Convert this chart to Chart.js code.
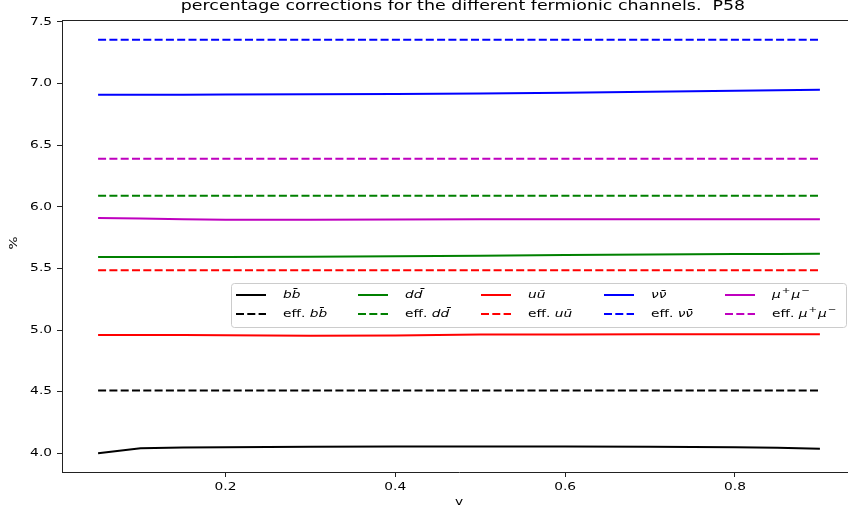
<!DOCTYPE html>
<html>
<head>
<meta charset="utf-8">
<script src="https://cdn.jsdelivr.net/npm/chart.js@4"></script>
<style>
  html, body { margin: 0; padding: 0; overflow: hidden; background: #fff; }
  #wrap { width: 870px; height: 510px; }
</style>
</head>
<body>
<div id="wrap"><canvas id="myChart"></canvas></div>
<script>
// values
const v = [0.05, 0.1, 0.15, 0.2, 0.3, 0.4, 0.5, 0.6, 0.7, 0.8, 0.85, 0.9];
const bb = [4.0, 4.04, 4.046, 4.049, 4.052, 4.054, 4.055, 4.055, 4.053, 4.049, 4.045, 4.037];
const dd = [5.592, 5.592, 5.592, 5.593, 5.595, 5.598, 5.602, 5.608, 5.614, 5.618, 5.617, 5.619];
const uu = [4.96, 4.96, 4.959, 4.957, 4.954, 4.956, 4.963, 4.964, 4.965, 4.965, 4.965, 4.966];
const nn = [6.91, 6.91, 6.91, 6.911, 6.913, 6.916, 6.92, 6.926, 6.933, 6.941, 6.945, 6.95];
const mm = [5.91, 5.905, 5.9, 5.896, 5.896, 5.898, 5.9, 5.9, 5.899, 5.9, 5.9, 5.9];

const vEff = [0.05, 0.9];
const effBb = [4.51, 4.51];
const effDd = [6.09, 6.09];
const effUu = [5.485, 5.485];
const effNn = [7.355, 7.355];
const effMm = [6.39, 6.39];

const names = ['b\u0062\u0304', 'd\u0064\u0304', 'u\u016b', '\u03bd\u03bd\u0304', '\u03bc\u207a\u03bc\u207b'];
const colors = ['#000000', '#008000', '#ff0000', '#0000ff', '#bf00bf'];
const solid = [bb, dd, uu, nn, mm];
const eff = [effBb, effDd, effUu, effNn, effMm];

const titleText = 'percentage corrections for the different fermionic channels.  P58';
const xLabel = 'v';
const yLabel = '%';

const SX = 1.31; // text in the picture is stretched sideways
const FONT = '"DejaVu Sans"';

const pts = (xs, ys) => xs.map((x, i) => ({ x: x, y: ys[i] }));

const datasets = [];
names.forEach((n, i) => {
  datasets.push({
    label: n, data: pts(v, solid[i]), borderColor: colors[i], borderWidth: 2,
    pointRadius: 0, tension: 0, fill: false,
  });
  datasets.push({
    label: 'eff. ' + n, data: pts(vEff, eff[i]), borderColor: colors[i], borderWidth: 2,
    borderDash: [8, 3.3], pointRadius: 0, tension: 0, fill: false,
  });
});

const txt = (ctx, s, x, y, size, align, style) => {
  ctx.save();
  ctx.translate(x, y);
  ctx.scale(SX, 1);
  ctx.font = (style || '') + ' ' + size + 'px ' + FONT;
  ctx.fillStyle = '#000';
  ctx.textAlign = align;
  ctx.textBaseline = 'middle';
  ctx.fillText(s, 0, 0);
  const w = ctx.measureText(s).width * SX;
  ctx.restore();
  return w;
};

// math-like label: superscript signs drawn smaller and raised
const mathTxt = (ctx, s, x, y, size) => {
  let cx = x;
  const parts = s.match(/[\u207a\u207b]|[^\u207a\u207b]+/g);
  parts.forEach(p => {
    if (p === '\u207a' || p === '\u207b') {
      const sign = p === '\u207a' ? '+' : '\u2212';
      cx += txt(ctx, sign, cx + 1, y - 4, size * 0.75, 'left') + 2;
    } else {
      cx += txt(ctx, p, cx, y, size, 'left', 'oblique');
    }
  });
  return cx - x;
};

const textPlugin = {
  id: 'texts',
  afterDraw(chart) {
    const ctx = chart.ctx;
    const a = chart.chartArea;
    const xs = chart.scales.x, ys = chart.scales.y;

    // top spine
    ctx.save();
    ctx.strokeStyle = '#222';
    ctx.lineWidth = 1;
    ctx.beginPath();
    ctx.moveTo(a.left, a.top + 0.5);
    ctx.lineTo(a.right, a.top + 0.5);
    ctx.stroke();
    ctx.restore();

    xs.ticks.forEach(t => txt(ctx, t.value.toFixed(1), xs.getPixelForValue(t.value), 487, 10.5, 'center'));
    ys.ticks.forEach(t => txt(ctx, t.value.toFixed(1), 52, ys.getPixelForValue(t.value), 10.5, 'right'));

    txt(ctx, titleText, 463, 7, 13.3, 'center');
    txt(ctx, xLabel, 459, 502, 10.5, 'center');
    ctx.save();
    ctx.translate(14, 243);
    ctx.rotate(-Math.PI / 2);
    txt(ctx, yLabel, 0, 0, 10.5, 'center');
    ctx.restore();

    // legend
    const lx = 231, ly = 283, lw = 615, lh = 44;
    ctx.save();
    ctx.beginPath();
    ctx.roundRect(lx + 0.5, ly + 0.5, lw, lh, 3);
    ctx.fillStyle = 'rgba(255,255,255,0.8)';
    ctx.fill();
    ctx.strokeStyle = '#cccccc';
    ctx.lineWidth = 1;
    ctx.stroke();
    ctx.restore();

    const colX = [236, 358, 481, 604, 725];
    const rowY = [295, 314];
    names.forEach((n, i) => {
      const x0 = colX[i];
      for (let r = 0; r < 2; r++) {
        ctx.save();
        ctx.strokeStyle = colors[i];
        ctx.lineWidth = 2;
        if (r === 1) ctx.setLineDash([8, 3.3]);
        ctx.beginPath();
        ctx.moveTo(x0, rowY[r]);
        ctx.lineTo(x0 + 30, rowY[r]);
        ctx.stroke();
        ctx.restore();
      }
      mathTxt(ctx, n, x0 + 47, rowY[0], 10.5);
      const w = txt(ctx, 'eff. ', x0 + 47, rowY[1], 10.5, 'left');
      mathTxt(ctx, n, x0 + 47 + w, rowY[1], 10.5);
    });
  }
};

window.onload = () => {
  const ctx = document.getElementById('myChart').getContext('2d');
  new Chart(ctx, {
    type: 'line',
    data: { datasets: datasets },
    options: {
      responsive: true,
      maintainAspectRatio: false,
      animation: false,
      layout: { padding: { top: 20, right: 14, left: 0, bottom: 0 } },
      plugins: { legend: { display: false }, title: { display: false }, tooltip: { enabled: false } },
      scales: {
        x: {
          type: 'linear', min: 0.0075, max: 0.9425,
          ticks: { display: false, stepSize: 0.2, includeBounds: false },
          grid: { drawOnChartArea: false, drawTicks: true, tickLength: 5, tickColor: '#222' },
          border: { color: '#222', width: 1 },
          afterFit: (s) => { s.height = 38; },
        },
        y: {
          type: 'linear', min: 3.848, max: 7.516,
          ticks: { display: false, stepSize: 0.5, includeBounds: false },
          grid: { drawOnChartArea: false, drawTicks: true, tickLength: 5, tickColor: '#222' },
          border: { color: '#222', width: 1 },
          afterFit: (s) => { s.width = 62; },
        },
      },
    },
    plugins: [textPlugin],
  });
};
</script>
</body>
</html>
